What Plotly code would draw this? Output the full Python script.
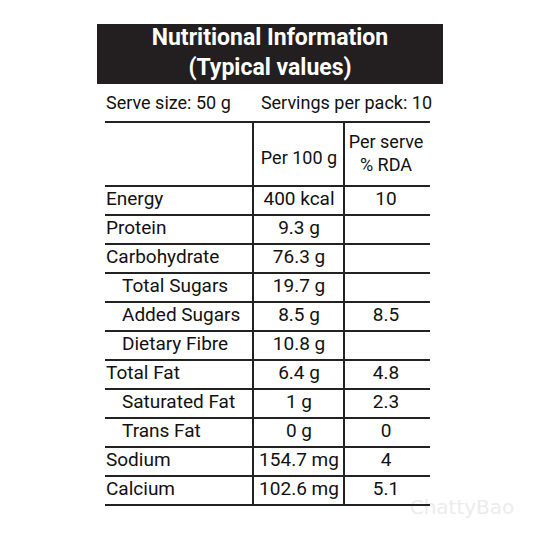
import plotly.graph_objects as go

nutrients = ["Energy", "Protein", "Carbohydrate", "Total Sugars", "Added Sugars", "Dietary Fibre",
             "Total Fat", "Saturated Fat", "Trans Fat", "Sodium", "Calcium"]
is_sub = [False, False, False, True, True, True, False, True, True, False, False]
per_100g = ["400 kcal", "9.3 g", "76.3 g", "19.7 g", "8.5 g", "10.8 g", "6.4 g", "1 g", "0 g", "154.7 mg", "102.6 mg"]
rda = ["10", "", "", "", "8.5", "", "4.8", "2.3", "0", "4", "5.1"]
title_lines = ["Nutritional Information", "(Typical values)"]
serve_size = "Serve size: 50 g"
servings = "Servings per pack: 10"
col_headers = ["Per 100 g", "Per serve<br>% RDA"]

FONT = "Roboto, sans-serif"
row0, pitch = 200.5, 29.0
ys = [row0 + i * pitch for i in range(len(nutrients))]

fig = go.Figure()
shapes = [dict(type="rect", x0=97, x1=443, y0=24, y1=84, fillcolor="#231f20", line_width=0, layer="below")]
shapes.append(dict(type="line", x0=105, x1=430, y0=122, y1=122, line=dict(color="#222", width=2)))
shapes.append(dict(type="line", x0=105, x1=430, y0=186, y1=186, line=dict(color="#222", width=2)))
for y in ys:
    shapes.append(dict(type="line", x0=105, x1=430, y0=y + 14.5, y1=y + 14.5, line=dict(color="#222", width=2)))
for x in (253, 344):
    shapes.append(dict(type="line", x0=x, x1=x, y0=122, y1=ys[-1] + 14.5, line=dict(color="#222", width=2)))

fig.add_trace(go.Scatter(x=[270], y=[54], mode="text", text=["<b>" + "<br>".join(title_lines) + "</b>"],
                         textfont=dict(family=FONT, size=23, color="white"), hoverinfo="skip"))
fig.add_trace(go.Scatter(x=[106, 432], y=[104, 104], mode="text", text=[serve_size, servings],
                         textposition=["middle right", "middle left"],
                         textfont=dict(family=FONT, size=18, color="#111"), hoverinfo="skip"))
fig.add_trace(go.Scatter(x=[299, 386], y=[159, 155], mode="text", text=col_headers,
                         textfont=dict(family=FONT, size=18, color="#111"), hoverinfo="skip"))
fig.add_trace(go.Scatter(x=[122 if s else 106 for s in is_sub], y=ys, mode="text", text=nutrients,
                         textposition="middle right", textfont=dict(family=FONT, size=19, color="#111"), hoverinfo="skip"))
fig.add_trace(go.Scatter(x=[299] * len(ys), y=ys, mode="text", text=per_100g,
                         textfont=dict(family=FONT, size=19, color="#111"), hoverinfo="skip"))
fig.add_trace(go.Scatter(x=[386] * len(ys), y=ys, mode="text", text=rda,
                         textfont=dict(family=FONT, size=19, color="#111"), hoverinfo="skip"))
fig.add_trace(go.Scatter(x=[462], y=[509], mode="text", text=["ChattyBao"],
                         textfont=dict(family="DejaVu Sans, sans-serif", size=20, color="#ececec"), hoverinfo="skip"))

fig.update_layout(width=540, height=540, margin=dict(l=0, r=0, t=0, b=0), showlegend=False,
                  plot_bgcolor="white", paper_bgcolor="white", shapes=shapes,
                  xaxis=dict(range=[8, 548], visible=False, fixedrange=True),
                  yaxis=dict(range=[548, 8], visible=False, fixedrange=True))
fig.write_html("out.html")
